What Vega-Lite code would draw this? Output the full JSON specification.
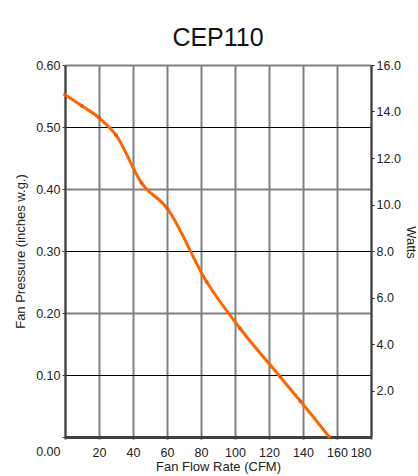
{
  "$schema": "https://vega.github.io/schema/vega-lite/v6.json",
  "width": 306,
  "height": 372,
  "autosize": {"type": "none"},
  "padding": {"left": 65, "top": 65, "right": 47, "bottom": 39},
  "background": "white",
  "config": {
    "view": {"stroke": null},
    "font": "Liberation Sans",
    "axis": {
      "labelFont": "Liberation Sans",
      "titleFont": "Liberation Sans",
      "labelFontSize": 12.5,
      "titleFontSize": 13,
      "labelColor": "#222222",
      "titleColor": "#222222",
      "titleFontWeight": "normal"
    }
  },
  "title": {
    "text": "CEP110",
    "fontSize": 25,
    "font": "Liberation Sans",
    "fontWeight": "normal",
    "color": "#111111",
    "anchor": "middle",
    "offset": 8
  },
  "data": {
    "values": [
      {"cfm": 0, "pressure": 0.552},
      {"cfm": 10, "pressure": 0.534},
      {"cfm": 20, "pressure": 0.515},
      {"cfm": 30, "pressure": 0.487},
      {"cfm": 45, "pressure": 0.41},
      {"cfm": 60, "pressure": 0.369},
      {"cfm": 83.4, "pressure": 0.25},
      {"cfm": 103, "pressure": 0.175},
      {"cfm": 126.6, "pressure": 0.097},
      {"cfm": 138.4, "pressure": 0.058},
      {"cfm": 155.5, "pressure": 0}
    ]
  },
  "encoding": {
    "x": {
      "field": "cfm",
      "type": "quantitative",
      "scale": {"domain": [0, 180], "nice": false, "zero": false},
      "axis": {
        "values": [0, 20, 40, 60, 80, 100, 120, 140, 160, 180],
        "labelExpr": "datum.value == 0 ? '' : datum.label",
        "title": "Fan Flow Rate (CFM)",
        "grid": true,
        "gridColor": "#808080",
        "gridWidth": 2,
        "domainColor": "#404040",
        "domainWidth": 3,
        "tickColor": "#404040",
        "tickSize": 2,
        "tickWidth": 2,
        "labelPadding": 7,
        "titlePadding": 2
      }
    }
  },
  "layer": [
    {
      "mark": {"type": "line", "color": "#FF6600", "strokeWidth": 3, "interpolate": "monotone"},
      "encoding": {
        "y": {
          "field": "pressure",
          "type": "quantitative",
          "scale": {"domain": [0, 0.6], "nice": false},
          "axis": {
            "values": [0, 0.1, 0.2, 0.3, 0.4, 0.5, 0.6],
            "format": ".2f",
            "title": "Fan Pressure (inches w.g.)",
            "grid": true,
            "gridColor": {"condition": {"test": "round(datum.value * 10) % 2 == 1", "value": "#000000"}, "value": "#808080"},
            "gridWidth": {"condition": {"test": "round(datum.value * 10) % 2 == 1", "value": 1}, "value": 2},
            "domainColor": "#404040",
            "domainWidth": 2,
            "tickColor": "#404040",
            "tickSize": 3,
            "labelPadding": 2,
            "labelOffset": {"condition": {"test": "datum.value == 0", "value": 14}, "value": 0},
            "titlePadding": 8
          }
        }
      }
    },
    {
      "mark": {"type": "point", "filled": true, "color": "#E85A00", "size": 14, "opacity": 1},
      "encoding": {
        "y": {
          "field": "pressure",
          "type": "quantitative",
          "scale": {"domain": [0, 0.6], "nice": false},
          "axis": {
            "orient": "right",
            "values": [0.075, 0.15, 0.225, 0.3, 0.375, 0.45, 0.525, 0.6],
            "labelExpr": "format(datum.value / 0.6 * 16, '.1f')",
            "title": "Watts",
            "titleAngle": 90,
            "titleY": 177,
            "titlePadding": 3,
            "grid": false,
            "domainColor": "#404040",
            "domainWidth": 2,
            "tickColor": "#222222",
            "tickSize": 3,
            "labelPadding": 2
          }
        }
      }
    }
  ],
  "resolve": {"scale": {"y": "independent"}}
}
